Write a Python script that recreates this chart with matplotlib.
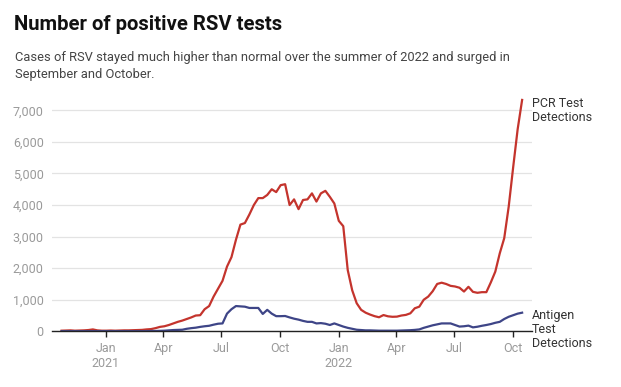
import numpy as np
import pandas as pd
import matplotlib
matplotlib.use("Agg")
import matplotlib.pyplot as plt
from matplotlib.ticker import FuncFormatter

plt.rcParams['font.family'] = ['Roboto', 'DejaVu Sans']

# weekly data, Oct 2020 - Oct 2022
dates = pd.date_range("2020-10-24", periods=104, freq="7D")

pcr = [20, 25, 30, 20, 25, 30, 40, 60, 30, 20,
       20, 25, 20, 25, 30, 30, 35, 40, 45, 60,
       70, 100, 140, 160, 200, 250, 300, 340, 390, 440,
       500, 510, 700, 800, 1100, 1350, 1600, 2050, 2350, 2900,
       3380, 3430, 3700, 4000, 4220, 4220, 4320, 4500, 4410, 4630,
       4660, 4000, 4180, 3870, 4160, 4180, 4370, 4110, 4370, 4450,
       4260, 4050, 3500, 3330, 1940, 1300, 890, 680, 590, 530,
       480, 445, 515, 475, 460, 465, 500, 520, 570, 730,
       780, 1000, 1100, 1270, 1500, 1540, 1500, 1440, 1420, 1380,
       1260, 1410, 1250, 1220, 1240, 1240, 1550, 1890, 2470, 2950,
       3950, 5200, 6400, 7330]

antigen = [5, 5, 5, 5, 5, 5, 5, 5, 5, 5,
           5, 5, 5, 5, 5, 5, 5, 5, 5, 5,
           10, 10, 15, 20, 30, 40, 45, 50, 80, 100,
           115, 140, 160, 175, 210, 240, 250, 560, 700, 800,
           790, 780, 740, 740, 740, 550, 680, 560, 480, 480,
           485, 440, 400, 370, 330, 300, 300, 250, 260, 240,
           200, 250, 200, 150, 110, 80, 50, 40, 30, 30,
           25, 20, 20, 20, 20, 20, 25, 30, 35, 45,
           60, 110, 150, 190, 220, 250, 250, 250, 200, 150,
           160, 180, 125, 145, 175, 200, 230, 270, 300, 390,
           460, 510, 560, 590]

tick_dates = pd.to_datetime(["2021-01-01", "2021-04-01", "2021-07-01", "2021-10-01",
                             "2022-01-01", "2022-04-01", "2022-07-01", "2022-10-01"])
tick_labels = ["Jan\n2021", "Apr", "Jul", "Oct", "Jan\n2022", "Apr", "Jul", "Oct"]
yticks = [0, 1000, 2000, 3000, 4000, 5000, 6000, 7000]

RED = "#c4342d"
BLUE = "#3e4587"

fig = plt.figure(figsize=(6.21, 3.87), dpi=100)
ax = fig.add_axes([0.0837, 0.1439, 0.7725, 0.6036])

ax.plot(dates, pcr, color=RED, lw=1.6, solid_joinstyle="round")
ax.plot(dates, antigen, color=BLUE, lw=1.6, solid_joinstyle="round")

ax.set_xlim(pd.Timestamp("2020-10-09"), pd.Timestamp("2022-10-30"))
ax.set_ylim(0, 7400)
ax.set_yticks(yticks)
ax.yaxis.set_major_formatter(FuncFormatter(lambda v, p: f"{int(v):,}"))
ax.set_xticks(tick_dates)
ax.set_xticklabels(tick_labels)

ax.grid(axis="y", color="#e3e3e3", lw=0.9)
ax.set_axisbelow(True)
for s in ["top", "right", "left"]:
    ax.spines[s].set_visible(False)
ax.spines["bottom"].set_color("#222222")
ax.spines["bottom"].set_linewidth(1.0)
ax.tick_params(axis="y", length=0, labelsize=9.0, labelcolor="#9a9a9a", pad=6)
ax.tick_params(axis="x", length=4.5, width=1, color="#222222",
               labelsize=9.0, labelcolor="#9a9a9a", pad=3)

# line labels
ax.annotate("PCR Test\nDetections", xy=(dates[-1], pcr[-1]), xytext=(532 / 621, 1 - 97 / 387),
            textcoords="figure fraction", ha="left", va="top", fontsize=9.0,
            color="#333333", linespacing=1.1)
ax.annotate("Antigen\nTest\nDetections", xy=(dates[-1], antigen[-1]), xytext=(532 / 621, 1 - 309 / 387),
            textcoords="figure fraction", ha="left", va="top", fontsize=9.0,
            color="#333333", linespacing=1.1)

fig.text(14 / 621, 1 - 15 / 387, "Number of positive RSV tests", fontsize=14.6,
         fontweight="bold", color="#111111", ha="left", va="top")
fig.text(15 / 621, 1 - 51 / 387,
         "Cases of RSV stayed much higher than normal over the summer of 2022 and surged in\nSeptember and October.",
         fontsize=9.3, color="#444444", ha="left", va="top", linespacing=1.4)

fig.savefig("out.png", dpi=100, facecolor="white")
